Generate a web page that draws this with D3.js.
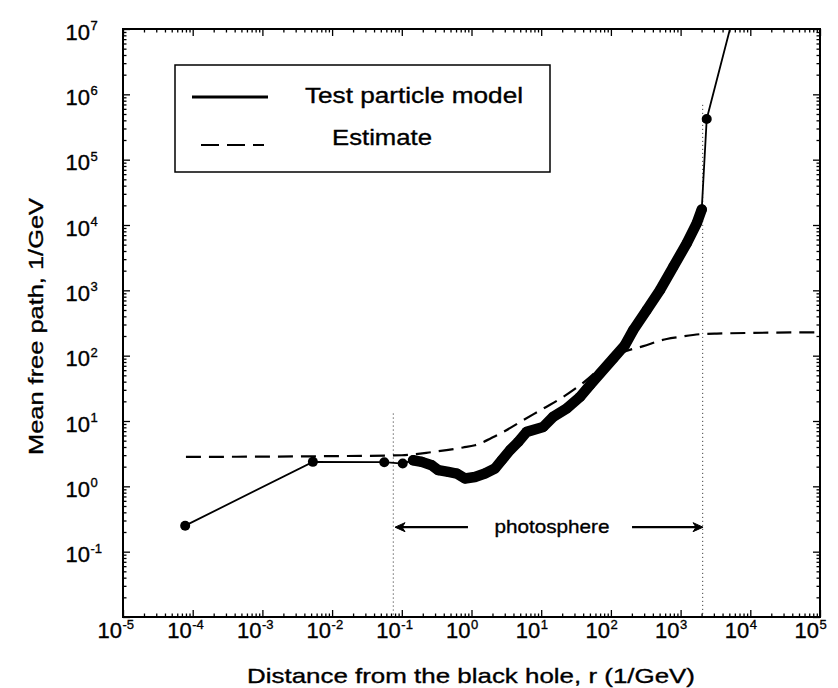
<!DOCTYPE html>
<html>
<head>
<meta charset="utf-8">
<script src="https://cdn.jsdelivr.net/npm/d3@7"></script>
<style>
  html, body { margin: 0; padding: 0; background: #fff; }
  text { font-family: "Liberation Sans", Arial, Helvetica, sans-serif; fill: #000; stroke: #000; stroke-width: 0.35px; }
</style>
</head>
<body>
<svg id="chart" width="838" height="688"></svg>
<script>
// ---------------- data ----------------
// Test particle model (r in 1/GeV, mean free path in 1/GeV)
const tpX = [7.8e-5, 5.3e-3, 0.056, 0.103, 0.145, 0.193, 0.268, 0.334, 0.465, 0.614, 0.807, 1.12, 1.56, 2.17, 2.71, 3.56, 4.69, 6.19, 10.7, 14.9, 23.2, 36.1, 50.1, 69.8, 108, 159, 209, 326, 506, 785, 1224, 1703, 2010, 2370, 7080];
const tpY = [0.25, 2.37, 2.34, 2.23, 2.51, 2.37, 2.10, 1.77, 1.66, 1.57, 1.32, 1.39, 1.57, 1.87, 2.51, 3.57, 4.79, 6.81, 8.12, 11.6, 15.5, 23.4, 35.3, 53.3, 90.6, 145, 246, 498, 1007, 2290, 5230, 1.06e4, 1.73e4, 4.2e5, 3.85e7];
// first index of the densely sampled part (markers overlap into a band) and last index
const denseStart = 4, denseEnd = 32;

// Estimate
const estX = [8e-5, 0.01, 0.1, 0.28, 0.755, 1.12, 2.32, 2.86, 5.53, 10.7, 20.7, 36.1, 135, 292, 632, 979, 1897, 3300, 1e5];
const estY = [2.82, 2.9, 2.99, 3.36, 3.93, 4.26, 6.07, 6.81, 10.3, 15.5, 23.4, 35.3, 108, 140, 180, 194, 213, 218, 228];

// photosphere boundaries (dotted verticals)
const photoX = [0.0755, 2075];
const photoTop = [13, 6.9e5];
const photoArrowY = 0.237;
const photoArrowTail = [0.89, 201];
const photoLabel = "photosphere";
const photoLabelX = 14.3, photoLabelY = 0.191;

// ticks
const xTickExp = [-5, -4, -3, -2, -1, 0, 1, 2, 3, 4, 5];
const yTickExp = [-1, 0, 1, 2, 3, 4, 5, 6, 7];
const xDomain = [1e-5, 1e5];
const yDomain = [1e-2, 1e7];

const xTitle = "Distance from the black hole, r (1/GeV)";
const yTitle = "Mean free path, 1/GeV";
const legendNames = ["Test particle model", "Estimate"];

// ---------------- layout ----------------
const L = 123, R = 820, T = 29, B = 617;
const svg = d3.select("#chart");
const x = d3.scaleLog().domain(xDomain).range([L, R]);
const y = d3.scaleLog().domain(yDomain).range([B, T]);

// minor tick values
function minors(dom) {
  const out = [];
  const a = Math.round(Math.log10(dom[0])), b = Math.round(Math.log10(dom[1]));
  for (let k = a; k < b; k++) for (let m = 2; m <= 9; m++) out.push(m * Math.pow(10, k));
  return out;
}
const xMajor = d3.range(Math.round(Math.log10(xDomain[0])), Math.round(Math.log10(xDomain[1])) + 1).map(e => Math.pow(10, e));
const yMajor = d3.range(Math.round(Math.log10(yDomain[0])), Math.round(Math.log10(yDomain[1])) + 1).map(e => Math.pow(10, e));
const xMinor = minors(xDomain), yMinor = minors(yDomain);

function drawAxis(gen, tr, vals, size) {
  const g = svg.append("g").attr("transform", tr)
    .call(gen.tickValues(vals).tickSize(size).tickSizeOuter(0).tickFormat(""));
  g.select(".domain").remove();
  g.selectAll(".tick line").attr("stroke", "#000").attr("stroke-width", 1.3);
}
drawAxis(d3.axisBottom(x), `translate(0,${B})`, xMajor, -7);
drawAxis(d3.axisBottom(x), `translate(0,${B})`, xMinor, -3.5);
drawAxis(d3.axisTop(x), `translate(0,${T})`, xMajor, -7);
drawAxis(d3.axisTop(x), `translate(0,${T})`, xMinor, -3.5);
drawAxis(d3.axisLeft(y), `translate(${L},0)`, yMajor, -7);
drawAxis(d3.axisLeft(y), `translate(${L},0)`, yMinor, -3.5);
drawAxis(d3.axisRight(y), `translate(${R},0)`, yMajor, -7);
drawAxis(d3.axisRight(y), `translate(${R},0)`, yMinor, -3.5);

svg.append("rect").attr("x", L).attr("y", T).attr("width", R - L).attr("height", B - T)
  .attr("fill", "none").attr("stroke", "#000").attr("stroke-width", 2);

// tick labels
xTickExp.forEach(e => {
  const px = x(Math.pow(10, e));
  svg.append("text").attr("x", px - 1).attr("y", B + 21).attr("text-anchor", "end")
    .attr("font-size", 22).text("10");
  svg.append("text").attr("x", px - 0.5).attr("y", B + 12).attr("font-size", 13).text(String(e));
});
yTickExp.forEach(e => {
  const py = y(Math.pow(10, e));
  svg.append("text").attr("x", 90).attr("y", py + 10.5).attr("text-anchor", "end")
    .attr("font-size", 22).text("10");
  svg.append("text").attr("x", 90.5).attr("y", py + 1).attr("font-size", 13).text(String(e));
});

// titles
svg.append("text").attr("x", 471).attr("y", 683).attr("text-anchor", "middle")
  .attr("font-size", 21).attr("textLength", 448).attr("lengthAdjust", "spacingAndGlyphs").text(xTitle);
svg.append("text").attr("transform", "translate(43,326.5) rotate(-90)").attr("text-anchor", "middle")
  .attr("font-size", 21).attr("textLength", 257).attr("lengthAdjust", "spacingAndGlyphs").text(yTitle);

// clip
svg.append("clipPath").attr("id", "plotclip").append("rect")
  .attr("x", L).attr("y", T).attr("width", R - L).attr("height", B - T);
const plot = svg.append("g").attr("clip-path", "url(#plotclip)");

// dotted photosphere verticals
photoX.forEach((v, i) => {
  plot.append("line").attr("x1", x(v)).attr("x2", x(v)).attr("y1", y(photoTop[i])).attr("y2", B)
    .attr("stroke", "#222").attr("stroke-width", 1).attr("stroke-dasharray", "1,3");
});

// estimate (dashed)
const estPts = estX.map((v, i) => [v, estY[i]]);
plot.append("path").datum(estPts)
  .attr("d", d3.line().x(d => x(d[0])).y(d => y(d[1])).curve(d3.curveMonotoneX))
  .attr("fill", "none").attr("stroke", "#000").attr("stroke-width", 2.2).attr("stroke-dasharray", "15,8");

// test particle model
const tpPts = tpX.map((v, i) => [v, tpY[i]]);
const lineGen = d3.line().x(d => x(d[0])).y(d => y(d[1]));
plot.append("path").datum(tpPts).attr("d", lineGen)
  .attr("fill", "none").attr("stroke", "#000").attr("stroke-width", 1.8);
// dense part: overlapping markers form a band
plot.append("path").datum(tpPts.slice(denseStart, denseEnd + 1)).attr("d", lineGen)
  .attr("fill", "none").attr("stroke", "#000").attr("stroke-width", 10.5)
  .attr("stroke-linejoin", "round").attr("stroke-linecap", "round");
plot.selectAll("circle.tp").data(tpPts.slice(0, tpPts.length - 1)).enter().append("circle")
  .attr("cx", d => x(d[0])).attr("cy", d => y(d[1])).attr("r", 5).attr("fill", "#000");

// photosphere arrows + label
const ay = y(photoArrowY);
function arrow(tail, tip) {
  const x0 = x(tail), x1 = x(tip), dir = x1 > x0 ? 1 : -1;
  svg.append("line").attr("x1", x0).attr("x2", x1 - dir * 4).attr("y1", ay).attr("y2", ay)
    .attr("stroke", "#000").attr("stroke-width", 2.2);
  svg.append("path").attr("d", `M${x1},${ay} L${x1 - dir * 10},${ay - 4.5} L${x1 - dir * 7},${ay} L${x1 - dir * 10},${ay + 4.5} Z`)
    .attr("fill", "#000").attr("stroke", "#000").attr("stroke-width", 1);
}
arrow(photoArrowTail[0], 0.08);
arrow(photoArrowTail[1], 2100);
svg.append("text").attr("x", x(photoLabelX)).attr("y", y(photoLabelY)).attr("text-anchor", "middle")
  .attr("font-size", 19).attr("textLength", 115).attr("lengthAdjust", "spacingAndGlyphs").text(photoLabel);

// legend
const lg = svg.append("g");
lg.append("rect").attr("x", 175).attr("y", 65).attr("width", 375).attr("height", 107)
  .attr("fill", "#fff").attr("stroke", "#000").attr("stroke-width", 1.5);
lg.append("line").attr("x1", 192).attr("x2", 268).attr("y1", 97).attr("y2", 97)
  .attr("stroke", "#000").attr("stroke-width", 3);
lg.append("line").attr("x1", 201).attr("x2", 264).attr("y1", 145).attr("y2", 145)
  .attr("stroke", "#000").attr("stroke-width", 2.2).attr("stroke-dasharray", "18,8");
lg.append("text").attr("x", 305).attr("y", 103).attr("font-size", 22)
  .attr("textLength", 218).attr("lengthAdjust", "spacingAndGlyphs").text(legendNames[0]);
lg.append("text").attr("x", 332).attr("y", 145).attr("font-size", 22)
  .attr("textLength", 100).attr("lengthAdjust", "spacingAndGlyphs").text(legendNames[1]);
</script>
</body>
</html>
